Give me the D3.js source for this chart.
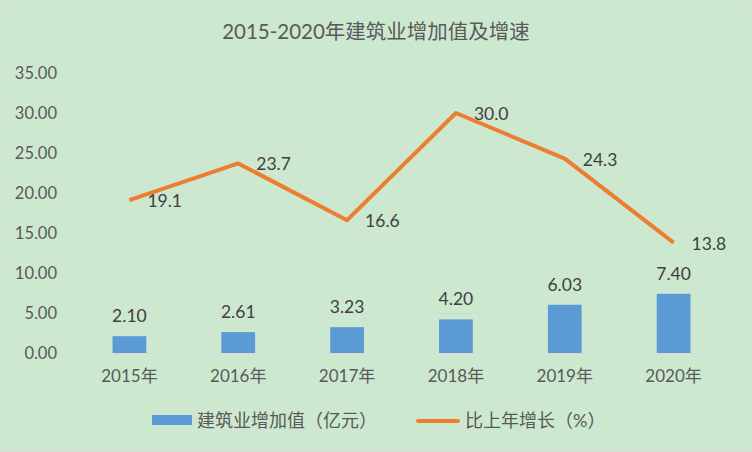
<!DOCTYPE html>
<html>
<head>
<meta charset="utf-8">
<script src="https://cdn.jsdelivr.net/npm/d3@7"></script>
<style>
  body { margin: 0; background: #fff; }
  text { font-family: "Lato", "Noto Sans CJK SC", sans-serif; }
</style>
</head>
<body>
<div id="chart"></div>
<script>
// data
var years = ["2015年", "2016年", "2017年", "2018年", "2019年", "2020年"];
var addedValue = [2.10, 2.61, 3.23, 4.20, 6.03, 7.40];   // 建筑业增加值（亿元）
var growth = [19.1, 23.7, 16.6, 30.0, 24.3, 13.8];       // 比上年增长（%）
var yTicks = [0, 5, 10, 15, 20, 25, 30, 35];

var width = 752, height = 452;
var margin = {top: 73, right: 24, bottom: 99, left: 75};
var innerW = width - margin.left - margin.right,
    innerH = height - margin.top - margin.bottom;

var svg = d3.select("#chart")
    .append("svg")
    .attr("width", width)
    .attr("height", height);

svg.append("rect")
    .attr("x", 0.5).attr("y", 0.5)
    .attr("width", width - 1).attr("height", height - 1)
    .attr("fill", "#cce8cf")
    .attr("stroke", "#d9d9d9");

svg.append("text")
    .attr("x", width / 2)
    .attr("y", 39)
    .attr("text-anchor", "middle")
    .attr("font-size", "20.5px")
    .attr("fill", "#595959")
    .text("2015-2020年建筑业增加值及增速");

var g = svg.append("g")
    .attr("transform", "translate(" + margin.left + "," + margin.top + ")");

var x = d3.scaleBand().domain(years).range([0, innerW]).paddingInner(0.69).paddingOuter(0.345);
var y = d3.scaleLinear().domain([0, 35]).range([innerH, 0]);

// gridlines
g.selectAll("line.grid")
    .data(yTicks)
    .enter()
    .append("line")
    .attr("class", "grid")
    .attr("x1", 0).attr("x2", innerW)
    .attr("y1", function(d) { return y(d) + 0.5; })
    .attr("y2", function(d) { return y(d) + 0.5; })
    .attr("stroke", "#d9d9d9")
    .attr("stroke-width", 1);

// y axis
var yAxis = g.append("g")
    .call(d3.axisLeft(y).tickValues(yTicks).tickFormat(d3.format(".2f")).tickSize(0).tickPadding(18));
yAxis.select(".domain").remove();
yAxis.selectAll("text")
    .attr("font-size", "16.5px")
    .attr("fill", "#595959");

// x axis
var xAxis = g.append("g")
    .attr("transform", "translate(0," + innerH + ")")
    .call(d3.axisBottom(x).tickSize(0).tickPadding(17));
xAxis.select(".domain").remove();
xAxis.selectAll("text")
    .attr("font-size", "17px")
    .attr("fill", "#595959");

// bars
g.selectAll("rect.bar")
    .data(addedValue)
    .enter()
    .append("rect")
    .attr("class", "bar")
    .attr("x", function(d, i) { return x(years[i]); })
    .attr("y", function(d) { return y(d); })
    .attr("width", x.bandwidth())
    .attr("height", function(d) { return innerH - y(d); })
    .attr("fill", "#5b9bd5");

g.selectAll("text.barlabel")
    .data(addedValue)
    .enter()
    .append("text")
    .attr("class", "barlabel")
    .attr("x", function(d, i) { return x(years[i]) + x.bandwidth() / 2; })
    .attr("y", function(d) { return y(d) - 14; })
    .attr("text-anchor", "middle")
    .attr("font-size", "17.5px")
    .attr("fill", "#404040")
    .text(function(d) { return d.toFixed(2); });

// line
var cx = function(i) { return x(years[i]) + x.bandwidth() / 2; };
var line = d3.line()
    .x(function(d, i) { return cx(i); })
    .y(function(d) { return y(d); });

g.append("path")
    .datum(growth)
    .attr("d", line)
    .attr("fill", "none")
    .attr("stroke", "#ed7d31")
    .attr("stroke-width", 4)
    .attr("stroke-linejoin", "round");

g.selectAll("text.linelabel")
    .data(growth)
    .enter()
    .append("text")
    .attr("class", "linelabel")
    .attr("x", function(d, i) { return cx(i) + 18; })
    .attr("y", function(d) { return y(d) + 7; })
    .attr("font-size", "17.5px")
    .attr("fill", "#404040")
    .text(function(d) { return d.toFixed(1); });

// legend
var legend = svg.append("g").attr("transform", "translate(0,420)");
legend.append("rect")
    .attr("x", 152).attr("y", -5)
    .attr("width", 40).attr("height", 10)
    .attr("fill", "#5b9bd5");
legend.append("text")
    .attr("x", 197).attr("y", 6.5)
    .attr("font-size", "18px")
    .attr("fill", "#595959")
    .text("建筑业增加值（亿元）");
legend.append("line")
    .attr("x1", 418).attr("x2", 458)
    .attr("y1", 1).attr("y2", 1)
    .attr("stroke", "#ed7d31")
    .attr("stroke-width", 4)
    .attr("stroke-linecap", "round");
legend.append("text")
    .attr("x", 465).attr("y", 6.5)
    .attr("font-size", "18px")
    .attr("fill", "#595959")
    .text("比上年增长（%）");
</script>
</body>
</html>
